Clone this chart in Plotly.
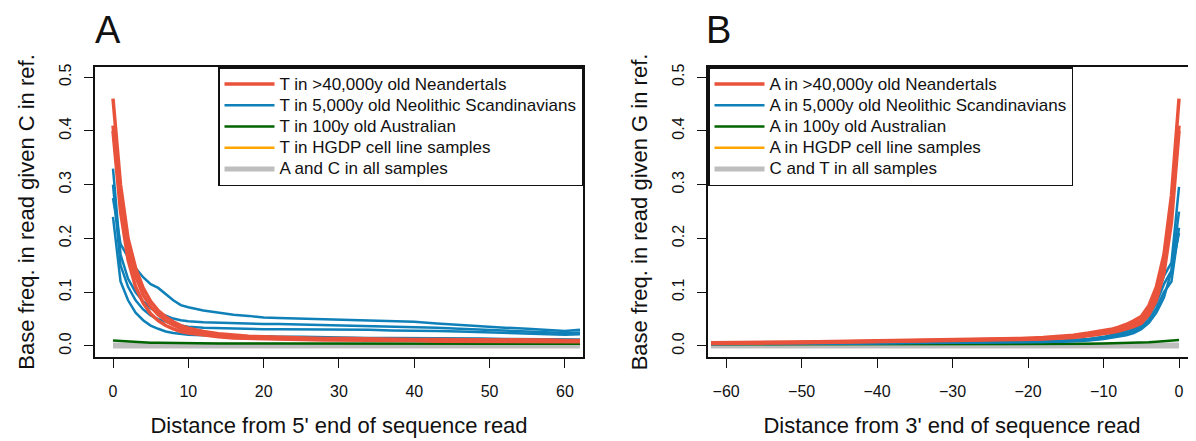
import plotly.graph_objects as go

W, H = 1196, 441
OFF = 8                      # default page margin of the html body
FW, FH = W - OFF, H - OFF


def xp(p):
    return (p - OFF) / FW


def yp(p):
    return 1 - (p - OFF) / FH


# ---------------- Panel A data (distance from 5' end) ----------------
xa = [0, 1, 2, 3, 4, 5, 6, 7, 8, 9, 10, 12, 14, 16, 18, 20, 22, 25, 28, 31,
      34, 37, 40, 43, 46, 49, 52, 55, 58, 60, 62]

a_red = [
    [0.46, 0.30, 0.20, 0.145, 0.108, 0.083, 0.066, 0.054, 0.045, 0.038, 0.033, 0.027, 0.023, 0.020, 0.018, 0.017,
     0.016, 0.015, 0.014, 0.014, 0.013, 0.013, 0.012, 0.012, 0.012, 0.011, 0.011, 0.011, 0.011, 0.010, 0.010],
    [0.41, 0.27, 0.18, 0.13, 0.095, 0.073, 0.058, 0.047, 0.039, 0.033, 0.029, 0.024, 0.021, 0.018, 0.017, 0.015,
     0.014, 0.013, 0.013, 0.012, 0.012, 0.011, 0.011, 0.011, 0.010, 0.010, 0.010, 0.010, 0.009, 0.009, 0.009],
    [0.40, 0.25, 0.16, 0.11, 0.080, 0.060, 0.047, 0.038, 0.032, 0.027, 0.024, 0.020, 0.017, 0.015, 0.014, 0.013,
     0.012, 0.012, 0.011, 0.011, 0.010, 0.010, 0.010, 0.009, 0.009, 0.009, 0.009, 0.008, 0.008, 0.008, 0.008],
]
a_blue = [
    [0.275, 0.19, 0.165, 0.145, 0.128, 0.115, 0.108, 0.097, 0.085, 0.076, 0.072, 0.066, 0.062, 0.058, 0.056, 0.053,
     0.052, 0.051, 0.050, 0.049, 0.048, 0.047, 0.045, 0.042, 0.039, 0.037, 0.034, 0.032, 0.030, 0.028, 0.030],
    [0.33, 0.17, 0.125, 0.10, 0.083, 0.070, 0.062, 0.056, 0.051, 0.048, 0.046, 0.044, 0.043, 0.042, 0.042, 0.041,
     0.041, 0.040, 0.040, 0.039, 0.038, 0.037, 0.035, 0.034, 0.032, 0.030, 0.029, 0.027, 0.025, 0.024, 0.025],
    [0.30, 0.15, 0.11, 0.085, 0.068, 0.057, 0.050, 0.045, 0.041, 0.038, 0.036, 0.034, 0.033, 0.032, 0.032, 0.031,
     0.031, 0.031, 0.030, 0.030, 0.030, 0.029, 0.029, 0.028, 0.027, 0.026, 0.025, 0.023, 0.022, 0.021, 0.022],
    [0.24, 0.12, 0.085, 0.062, 0.048, 0.038, 0.032, 0.027, 0.024, 0.022, 0.021, 0.020, 0.019, 0.019, 0.018, 0.018,
     0.017, 0.017, 0.016, 0.016, 0.015, 0.015, 0.015, 0.014, 0.014, 0.014, 0.013, 0.013, 0.013, 0.012, 0.012],
]
a_green = [0.010, 0.009, 0.008, 0.007, 0.0065, 0.006, 0.0058, 0.0055, 0.0053, 0.0052, 0.0050, 0.0049, 0.0048,
           0.0047, 0.0047, 0.0046, 0.0046, 0.0045, 0.0045, 0.0045, 0.0044, 0.0044, 0.0044, 0.0043, 0.0043, 0.0043,
           0.0042, 0.0042, 0.0042, 0.0042, 0.0042]
a_orange = [0.0015] * 31
a_grey = [
    [0.002] * 31,
    [0.0] * 31,
]

# ---------------- Panel B data (distance from 3' end) ----------------
xb = [-62, -60, -57, -54, -51, -48, -45, -42, -39, -36, -33, -30, -27, -24, -21, -18, -16, -14, -12, -10,
      -9, -8, -7, -6, -5, -4, -3, -2, -1, 0]

b_red = [
    [0.006, 0.006, 0.0065, 0.007, 0.0075, 0.008, 0.0085, 0.009, 0.0095, 0.0100, 0.0105, 0.011, 0.012, 0.013,
     0.014, 0.016, 0.018, 0.020, 0.024, 0.028, 0.031, 0.035, 0.040, 0.047, 0.055, 0.075, 0.11, 0.17, 0.28, 0.46],
    [0.005, 0.005, 0.0055, 0.006, 0.0065, 0.007, 0.0075, 0.008, 0.0085, 0.009, 0.0095, 0.010, 0.011, 0.012,
     0.013, 0.014, 0.016, 0.018, 0.021, 0.025, 0.028, 0.031, 0.036, 0.041, 0.048, 0.066, 0.097, 0.15, 0.25, 0.41],
    [0.0045, 0.0045, 0.005, 0.0055, 0.006, 0.0065, 0.007, 0.007, 0.0075, 0.008, 0.0085, 0.009, 0.010, 0.011,
     0.012, 0.013, 0.014, 0.016, 0.019, 0.022, 0.025, 0.028, 0.032, 0.036, 0.042, 0.058, 0.085, 0.135, 0.23, 0.40],
]
b_blue = [
    [0.004, 0.004, 0.0042, 0.0045, 0.0047, 0.005, 0.0052, 0.0055, 0.0058, 0.006, 0.0063, 0.0066, 0.007, 0.0074,
     0.0080, 0.0088, 0.0095, 0.011, 0.013, 0.017, 0.020, 0.024, 0.029, 0.035, 0.045, 0.062, 0.09, 0.13, 0.155, 0.296],
    [0.004, 0.004, 0.004, 0.0042, 0.0045, 0.0047, 0.005, 0.0052, 0.0055, 0.0058, 0.006, 0.0063, 0.0066, 0.007,
     0.0075, 0.0082, 0.009, 0.010, 0.012, 0.015, 0.018, 0.021, 0.025, 0.031, 0.040, 0.055, 0.08, 0.115, 0.14, 0.25],
    [0.0035, 0.0035, 0.0037, 0.004, 0.0042, 0.0045, 0.0047, 0.005, 0.0052, 0.0055, 0.0058, 0.006, 0.0063, 0.0066,
     0.007, 0.0076, 0.0083, 0.0093, 0.011, 0.014, 0.016, 0.019, 0.022, 0.027, 0.035, 0.048, 0.07, 0.10, 0.12, 0.22],
    [0.0035, 0.0035, 0.0035, 0.0037, 0.004, 0.0042, 0.0045, 0.0047, 0.005, 0.0052, 0.0055, 0.0058, 0.006, 0.0063,
     0.0067, 0.0072, 0.0078, 0.0088, 0.010, 0.013, 0.015, 0.017, 0.020, 0.024, 0.031, 0.043, 0.062, 0.09, 0.14, 0.21],
]
b_green = [0.003, 0.003, 0.003, 0.003, 0.003, 0.003, 0.003, 0.0031, 0.0031, 0.0032, 0.0032, 0.0033, 0.0033,
           0.0034, 0.0035, 0.0036, 0.0037, 0.0039, 0.0041, 0.0045, 0.0047, 0.005, 0.0055, 0.006, 0.0065, 0.007,
           0.008, 0.009, 0.010, 0.011]
b_orange = [0.0015] * 30
b_grey = [
    [0.002] * 30,
    [0.0] * 30,
]

labels_a = ["T in >40,000y old Neandertals", "T in 5,000y old Neolithic Scandinavians",
            "T in 100y old Australian", "T in HGDP cell line samples", "A and C in all samples"]
labels_b = ["A in >40,000y old Neandertals", "A in 5,000y old Neolithic Scandinavians",
            "A in 100y old Australian", "A in HGDP cell line samples", "C and T in all samples"]

y_ticks = [0.0, 0.1, 0.2, 0.3, 0.4, 0.5]
xa_ticks = [0, 10, 20, 30, 40, 50, 60]
xb_ticks = [-60, -50, -40, -30, -20, -10, 0]

RED, BLUE, GREEN, ORANGE, GREY = "#E9533B", "#0F80B8", "#006400", "#FFA500", "#BEBEBE"
FONT = "Liberation Sans, Arial, Helvetica, sans-serif"

fig = go.Figure()


def add_group(x, series, color, width, name, legend, xaxis, yaxis, group):
    label = '<span style="font-size:17px">%s</span>' % name
    for i, ys in enumerate(series):
        fig.add_trace(go.Scatter(
            x=x, y=ys, mode="lines", line=dict(color=color, width=width),
            name=label, legendgroup=group, showlegend=(i == 0), legend=legend,
            xaxis=xaxis, yaxis=yaxis, hoverinfo="skip"))


def panel(x, red, blue, green, orange, grey, labels, legend, xaxis, yaxis, tag):
    add_group(x, [orange], ORANGE, 2.5, labels[3], legend, xaxis, yaxis, tag + "o")
    add_group(x, grey, GREY, 5, labels[4], legend, xaxis, yaxis, tag + "g")
    add_group(x, [green], GREEN, 2.5, labels[2], legend, xaxis, yaxis, tag + "n")
    add_group(x, blue, BLUE, 2.5, labels[1], legend, xaxis, yaxis, tag + "b")
    add_group(x, red, RED, 3.5, labels[0], legend, xaxis, yaxis, tag + "r")


panel(xa, a_red, a_blue, a_green, a_orange, a_grey, labels_a, "legend", "x", "y", "A")
panel(xb, b_red, b_blue, b_green, b_orange, b_grey, labels_b, "legend2", "x2", "y2", "B")

rank = {"r": 1, "b": 2, "n": 3, "o": 4, "g": 5}
for tr in fig.data:
    tr.legendrank = rank[tr.legendgroup[-1]]

ydom = [yp(357), yp(67)]
axis_common = dict(showgrid=False, zeroline=False, showline=True, linecolor="#111", linewidth=1.5,
                   ticks="outside", ticklen=9, tickwidth=1.3, tickcolor="#111", automargin=False,
                   tickfont=dict(family=FONT, size=16, color="#111"))
xtitle_font = dict(family=FONT, size=22, color="#111")
legend_common = dict(yanchor="top", bgcolor="white", bordercolor="#111", borderwidth=1.5, tracegroupgap=0,
                     itemwidth=50, font=dict(family=FONT, size=14, color="#111"))

fig.update_layout(
    width=FW, height=FH, margin=dict(l=0, r=0, t=0, b=0, autoexpand=False),
    paper_bgcolor="white", plot_bgcolor="white",
    font=dict(family=FONT, color="#111"),
    xaxis=dict(domain=[xp(95), xp(583)], range=[-2.39, 62.4], tickvals=xa_ticks, mirror=True,
               ticklabelstandoff=10,
               title=dict(text="Distance from 5' end of sequence read", font=xtitle_font, standoff=19),
               **axis_common),
    yaxis=dict(domain=ydom, range=[-0.0205, 0.519], tickvals=y_ticks, tickformat=".1f", tickangle=-90,
               mirror=True, ticklabelstandoff=7,
               title=dict(text="Base freq. in read given C in ref.", font=xtitle_font, standoff=16),
               **axis_common),
    xaxis2=dict(domain=[xp(708), 1.0], range=[-62.4, 2.25], tickvals=xb_ticks, mirror=True, anchor="y2",
                ticklabelstandoff=10,
                title=dict(text="Distance from 3' end of sequence read", font=xtitle_font, standoff=19),
                **axis_common),
    yaxis2=dict(domain=ydom, range=[-0.0205, 0.519], tickvals=y_ticks, tickformat=".1f", tickangle=-90,
                mirror=False, anchor="x2", ticklabelstandoff=7,
                title=dict(text="Base freq. in read given G in ref.", font=xtitle_font, standoff=16),
                **axis_common),
    legend=dict(x=xp(583), xanchor="right", y=ydom[1], **legend_common),
    legend2=dict(x=xp(708), xanchor="left", y=ydom[1], **legend_common),
    annotations=[
        dict(text="A", xref="paper", yref="paper", x=xp(93), y=yp(30), xanchor="left", yanchor="middle",
             showarrow=False, font=dict(family=FONT, size=38, color="#111")),
        dict(text="B", xref="paper", yref="paper", x=xp(704), y=yp(30), xanchor="left", yanchor="middle",
             showarrow=False, font=dict(family=FONT, size=38, color="#111")),
    ],
)

fig.write_html("out.html")
